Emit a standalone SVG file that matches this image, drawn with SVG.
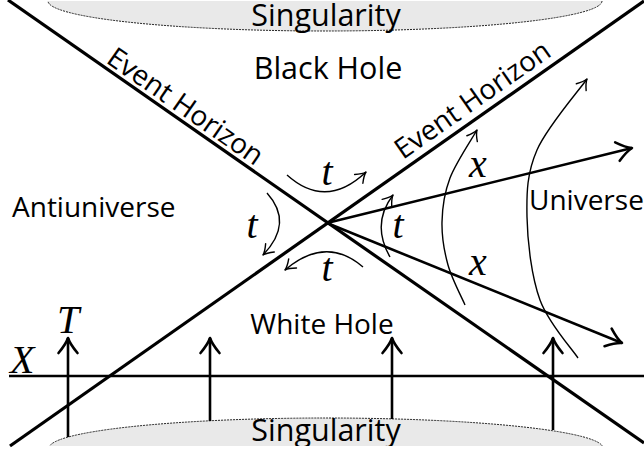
<svg xmlns="http://www.w3.org/2000/svg" width="644" height="450" viewBox="0 0 644 450">
<style>
.lbl{font-family:"Open Sans","Noto Sans","Liberation Sans",sans-serif;font-size:28px;fill:#000}
.big{font-size:30.5px}
.eh{font-family:"Open Sans","Noto Sans","Liberation Sans",sans-serif;font-size:28px;fill:#000}
.math{font-family:"Liberation Serif","DejaVu Serif",serif;font-style:italic;font-size:40px;fill:#000}
.sing{fill:#e9e9e9;stroke:#222;stroke-width:1;stroke-dasharray:2 1}
.thick{stroke:#000;stroke-width:3.2;fill:none}
.axis{stroke:#000;stroke-width:2.6;fill:none}
.arr{stroke:#000;stroke-width:2.6;fill:none;marker-end:url(#ah)}
.thin{stroke:#000;stroke-width:1.4;fill:none;marker-end:url(#ahs)}
</style>
<defs>
<clipPath id="frame"><rect x="0" y="1" width="644" height="445"/></clipPath>
<marker id="ah" markerUnits="userSpaceOnUse" viewBox="-16 -11 18 22" refX="0" refY="0" markerWidth="18" markerHeight="22" orient="auto" overflow="visible">
<path d="M-15,-9.5 Q-6,-2 0,0 Q-6,2 -15,9.5" fill="none" stroke="#000" stroke-width="2.6" stroke-linecap="round" stroke-linejoin="round"/>
</marker>
<marker id="ahs" markerUnits="userSpaceOnUse" viewBox="-12 -8 14 16" refX="0" refY="0" markerWidth="14" markerHeight="16" orient="auto" overflow="visible">
<path d="M-10,-6 Q-4,-1 0,0 Q-4,1 -10,6" fill="none" stroke="#000" stroke-width="1.4" stroke-linecap="round" stroke-linejoin="round"/>
</marker>
</defs>
<rect width="644" height="450" fill="#fff"/>
<g id="singularity-top">
<ellipse class="sing" cx="325" cy="1" rx="277" ry="30" clip-path="url(#frame)"/>
<text class="lbl big" x="326" y="26" text-anchor="middle">Singularity</text>
</g>
<g id="singularity-bottom" clip-path="url(#frame)">
<ellipse class="sing" cx="326" cy="448" rx="277" ry="30"/>
<text class="lbl big" x="326" y="441" text-anchor="middle">Singularity</text>
</g>
<g id="black-hole"><text class="lbl big" x="328" y="79" text-anchor="middle">Black Hole</text></g>
<g id="white-hole"><text class="lbl" x="322" y="334" text-anchor="middle">White Hole</text></g>
<g id="antiuniverse"><text class="lbl" x="12" y="217">Antiuniverse</text></g>
<g id="universe"><text class="lbl" x="529" y="210">Universe</text></g>
<g id="horizon-left"><text class="eh" transform="translate(105,62) rotate(34.8)">Event Horizon</text></g>
<g id="horizon-right"><text class="eh" transform="translate(403,160) rotate(-35)">Event Horizon</text></g>
<g id="connectors">
<line class="thick" x1="8" y1="0" x2="644" y2="443"/>
<line class="thick" x1="10" y1="446" x2="644" y2="1"/>
<line class="axis" x1="9" y1="376" x2="644" y2="376"/>
<line class="arr" x1="68" y1="437" x2="68" y2="338"/>
<line class="arr" x1="210" y1="421" x2="210" y2="338"/>
<line class="arr" x1="392" y1="419" x2="392" y2="338"/>
<line class="arr" x1="553" y1="430" x2="553" y2="338"/>
<line class="arr" x1="327" y1="223" x2="632" y2="148"/>
<line class="arr" x1="327" y1="223" x2="622" y2="343"/>
<path class="thin" d="M465,305 C462.2,298.3 451.8,278.8 448,265 C444.2,251.2 441.7,236.5 442,222 C442.3,207.5 444.2,193.3 450,178 C455.8,162.7 472.5,138 477,130"/>
<path class="thin" d="M578,358 C571.7,348.3 548.5,323.5 540,300 C531.5,276.5 527.5,242 527,217 C526.5,192 527,173 537,150 C547,127 578.7,90.8 587,79"/>
<path class="thin" d="M287,175 Q326,210 366,172"/>
<path class="thin" d="M363,267 Q326,235 285,270"/>
<path class="thin" d="M267,193 Q294,223 263,255"/>
<path class="thin" d="M390,257 Q371,224 393,195"/>
</g>
<g id="math-labels">
<text class="math" x="57" y="333">T</text>
<text class="math" x="10" y="373">X</text>
<text class="math" x="478" y="177" text-anchor="middle">x</text>
<text class="math" x="478" y="275" text-anchor="middle">x</text>
<text class="math" x="327" y="185" text-anchor="middle">t</text>
<text class="math" x="252" y="238" text-anchor="middle">t</text>
<text class="math" x="398" y="238" text-anchor="middle">t</text>
<text class="math" x="327" y="281" text-anchor="middle">t</text>
</g>
</svg>
